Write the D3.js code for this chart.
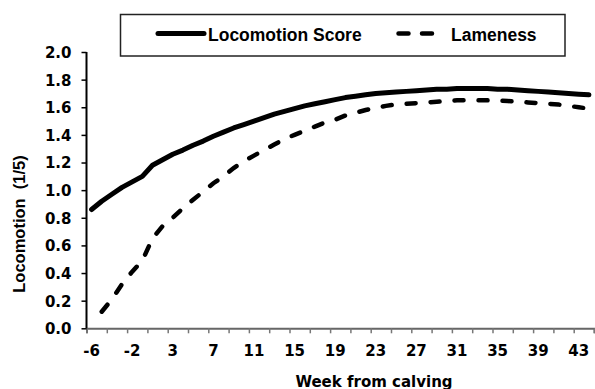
<!DOCTYPE html>
<html><head><meta charset="utf-8">
<script src="https://cdn.jsdelivr.net/npm/d3@7"></script>
<style>body{margin:0;background:#fff}svg{display:block}</style>
</head><body>
<script>
const weeks = [-6,-5,-4,-3,-2,-1,1,2,3,4,5,6,7,8,9,10,11,12,13,14,15,16,17,18,19,20,21,22,23,24,25,26,27,28,29,30,31,32,33,34,35,36,37,38,39,40,41,42,43,44];
const locomotionScore = [0.86,0.92,0.97,1.02,1.06,1.10,1.18,1.22,1.26,1.29,1.325,1.355,1.39,1.42,1.45,1.475,1.50,1.525,1.55,1.57,1.59,1.61,1.625,1.64,1.655,1.67,1.68,1.69,1.70,1.705,1.71,1.715,1.72,1.725,1.73,1.73,1.735,1.735,1.735,1.735,1.73,1.73,1.725,1.72,1.715,1.71,1.705,1.70,1.695,1.69];
const lameness = [null,0.12,0.21,0.32,0.41,0.49,0.65,0.74,0.80,0.87,0.93,0.99,1.05,1.10,1.16,1.21,1.25,1.29,1.33,1.37,1.40,1.43,1.46,1.49,1.51,1.54,1.56,1.58,1.595,1.61,1.62,1.625,1.63,1.635,1.64,1.645,1.65,1.65,1.65,1.65,1.648,1.645,1.64,1.635,1.63,1.625,1.62,1.61,1.60,1.59];
const xLabels = [-6,-2,3,7,11,15,19,23,27,31,35,39,43];
const yTicks = [0,0.2,0.4,0.6,0.8,1.0,1.2,1.4,1.6,1.8,2.0];
const seriesNames = ["Locomotion Score","Lameness"];

(function(){
const W = 595, H = 389;
const svg = d3.select("body").append("svg").attr("width", W).attr("height", H);
const pLeft = 86.5, pRight = 594, pTop = 52, pBottom = 328.3;

const x = d3.scaleBand().domain(weeks).range([pLeft, pRight]).padding(0);
const xIdx = d3.scaleLinear().domain([0, weeks.length]).range([pLeft, pRight]);
const y = d3.scaleLinear().domain([0, 2]).range([pBottom, pTop]);

const xTickAxis = svg.append("g").attr("transform", `translate(0,${pBottom})`)
  .call(d3.axisBottom(xIdx).tickValues(d3.range(0, weeks.length + 1, 2)).tickSize(5).tickFormat(""));
xTickAxis.select(".domain").attr("stroke", "#666").attr("stroke-width", 2);
xTickAxis.selectAll(".tick line").attr("stroke", "#777").attr("stroke-width", 1.5);

const xLabAxis = svg.append("g").attr("transform", `translate(0,${pBottom})`)
  .call(d3.axisBottom(x).tickValues(xLabels).tickSize(0).tickPadding(17).tickFormat(d => d));
xLabAxis.select(".domain").remove();
xLabAxis.selectAll("text").attr("font-family", "DejaVu Sans").attr("font-weight", "bold")
  .attr("font-size", "15px").attr("fill", "#000");

const yAxis = svg.append("g").attr("transform", `translate(${pLeft},0)`)
  .call(d3.axisLeft(y).tickValues(yTicks).tickSize(5).tickPadding(10).tickFormat(d3.format(".1f")));
yAxis.select(".domain").attr("stroke", "#000").attr("stroke-width", 2).attr("d", `M0,${pTop}V${pBottom}`);
yAxis.selectAll(".tick line").attr("stroke", "#000").attr("stroke-width", 1.5);
yAxis.selectAll("text").attr("font-family", "DejaVu Sans").attr("font-weight", "bold")
  .attr("font-size", "15px").attr("fill", "#000").attr("dy", "0.36em");

const line = d3.line()
  .defined(d => d.v != null)
  .x(d => x(d.w) + x.bandwidth() / 2)
  .y(d => y(d.v));

svg.append("path")
  .datum(weeks.map((w, i) => ({w, v: locomotionScore[i]})))
  .attr("d", line).attr("fill", "none").attr("stroke", "#000")
  .attr("stroke-width", 5).attr("stroke-linejoin", "round").attr("stroke-linecap", "round");

svg.append("path")
  .datum(weeks.map((w, i) => ({w, v: lameness[i]})))
  .attr("d", line).attr("fill", "none").attr("stroke", "#000")
  .attr("stroke-width", 4.5).attr("stroke-dasharray", "9,15").attr("stroke-linecap", "round");

svg.append("text").attr("x", 374).attr("y", 386.5).attr("text-anchor", "middle")
  .attr("font-family", "DejaVu Sans").attr("font-weight", "bold").attr("font-size", "15px")
  .text("Week from calving");
svg.append("text").attr("transform", "translate(25,224) rotate(-90)").attr("text-anchor", "middle")
  .attr("font-family", "Liberation Sans").attr("font-weight", "bold").attr("font-size", "16.5px")
  .style("white-space", "pre")
  .text("Locomotion  (1/5)");

const lg = svg.append("g");
lg.append("rect").attr("x", 120.5).attr("y", 14.5).attr("width", 444.5).attr("height", 41.5)
  .attr("fill", "#fff").attr("stroke", "#222").attr("stroke-width", 1.5);
lg.append("line").attr("x1", 158).attr("x2", 204).attr("y1", 33.5).attr("y2", 33.5)
  .attr("stroke", "#000").attr("stroke-width", 5).attr("stroke-linecap", "round");
lg.append("text").attr("x", 208).attr("y", 40.5)
  .attr("font-family", "Liberation Sans").attr("font-weight", "bold").attr("font-size", "17.5px")
  .text(seriesNames[0]);
lg.append("line").attr("x1", 398.5).attr("x2", 432).attr("y1", 33.5).attr("y2", 33.5)
  .attr("stroke", "#000").attr("stroke-width", 4.5).attr("stroke-dasharray", "10,13.5").attr("stroke-linecap", "round");
lg.append("text").attr("x", 451).attr("y", 40.5)
  .attr("font-family", "Liberation Sans").attr("font-weight", "bold").attr("font-size", "17.5px")
  .text(seriesNames[1]);
})();
</script>
</body></html>
